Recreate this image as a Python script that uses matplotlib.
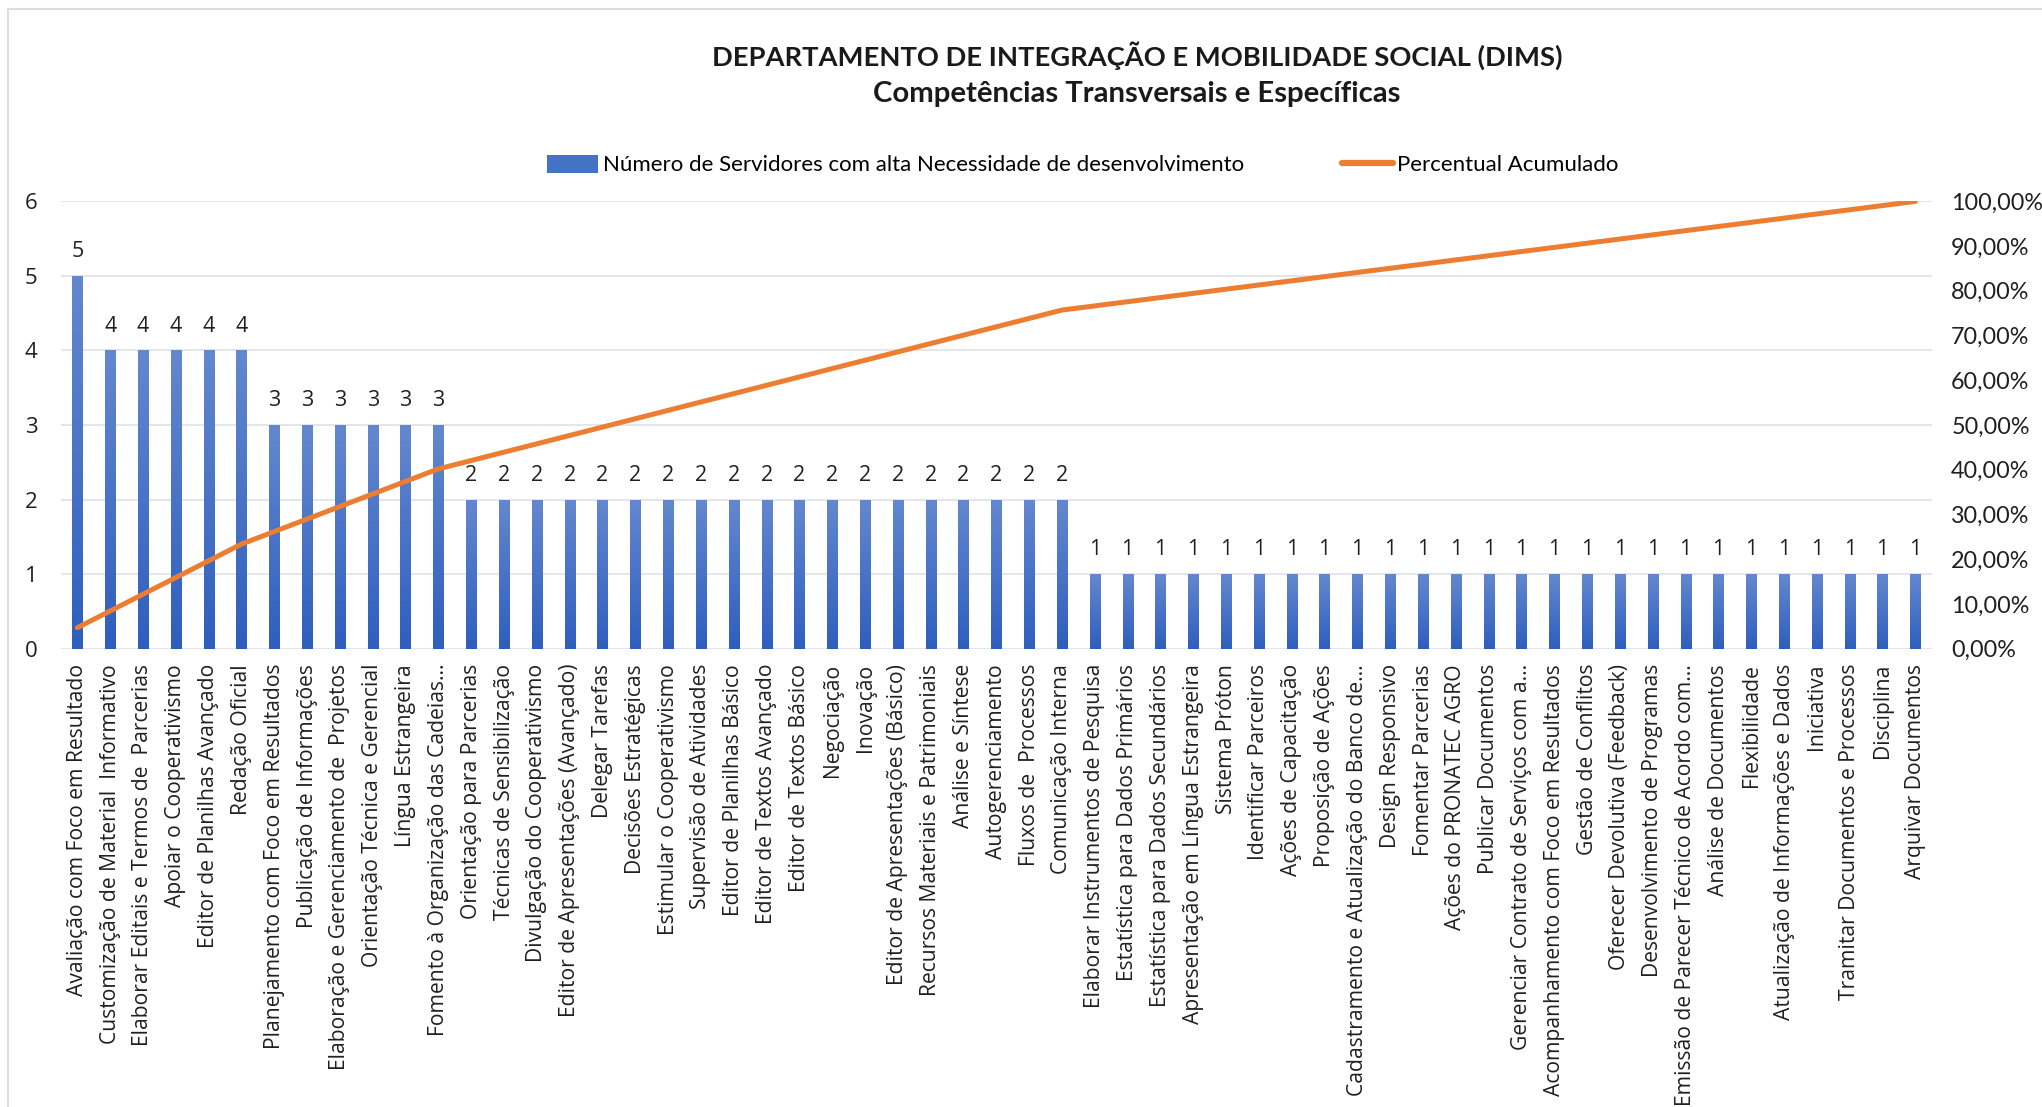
import numpy as np
import matplotlib
matplotlib.use("Agg")
import matplotlib.pyplot as plt
from matplotlib.patches import Rectangle
from matplotlib.lines import Line2D
from matplotlib.colors import LinearSegmentedColormap
from matplotlib.ticker import FuncFormatter

categories = [
    "Avaliação com Foco em Resultado",
    "Customização de Material  Informativo",
    "Elaborar Editais e Termos de  Parcerias",
    "Apoiar o Cooperativismo",
    "Editor de Planilhas Avançado",
    "Redação Oficial",
    "Planejamento com Foco em Resultados",
    "Publicação de Informações",
    "Elaboração e Gerenciamento de  Projetos",
    "Orientação Técnica e Gerencial",
    "Língua Estrangeira",
    "Fomento à Organização das Cadeias...",
    "Orientação para Parcerias",
    "Técnicas de Sensibilização",
    "Divulgação do Cooperativismo",
    "Editor de Apresentações (Avançado)",
    "Delegar Tarefas",
    "Decisões Estratégicas",
    "Estimular o Cooperativismo",
    "Supervisão de Atividades",
    "Editor de Planilhas Básico",
    "Editor de Textos Avançado",
    "Editor de Textos Básico",
    "Negociação",
    "Inovação",
    "Editor de Apresentações (Básico)",
    "Recursos Materiais e Patrimoniais",
    "Análise e Síntese",
    "Autogerenciamento",
    "Fluxos de  Processos",
    "Comunicação Interna",
    "Elaborar Instrumentos de Pesquisa",
    "Estatística para Dados Primários",
    "Estatística para Dados Secundários",
    "Apresentação em Língua Estrangeira",
    "Sistema Próton",
    "Identificar Parceiros",
    "Ações de Capacitação",
    "Proposição de Ações",
    "Cadastramento e Atualização do Banco de...",
    "Design Responsivo",
    "Fomentar Parcerias",
    "Ações do PRONATEC AGRO",
    "Publicar Documentos",
    "Gerenciar Contrato de Serviços com a...",
    "Acompanhamento com Foco em Resultados",
    "Gestão de Conflitos",
    "Oferecer Devolutiva (Feedback)",
    "Desenvolvimento de Programas",
    "Emissão de Parecer Técnico de Acordo com...",
    "Análise de Documentos",
    "Flexibilidade",
    "Atualização de Informações e Dados",
    "Iniciativa",
    "Tramitar Documentos e Processos",
    "Disciplina",
    "Arquivar Documentos",
]

counts = [5, 4, 4, 4, 4, 4, 3, 3, 3, 3, 3, 3,
          2, 2, 2, 2, 2, 2, 2, 2, 2, 2, 2, 2, 2, 2, 2, 2, 2, 2, 2,
          1, 1, 1, 1, 1, 1, 1, 1, 1, 1, 1, 1, 1, 1, 1, 1, 1, 1, 1, 1, 1, 1, 1, 1, 1, 1]

title_line1 = "DEPARTAMENTO DE INTEGRAÇÃO E MOBILIDADE SOCIAL (DIMS)"
title_line2 = "Competências Transversais e Específicas"
legend_bar = "Número de Servidores com alta Necessidade de desenvolvimento"
legend_line = "Percentual Acumulado"

counts_arr = np.array(counts, dtype=float)
cum_pct = np.cumsum(counts_arr) / counts_arr.sum() * 100.0

W, H = 2042, 1107
fig = plt.figure(figsize=(W / 100, H / 100), dpi=100)
fig.patch.set_facecolor("white")

# outer chart border (left and top)
fig.add_artist(Line2D([8 / W, 8 / W], [0, 1 - 9 / H], transform=fig.transFigure,
                      color="#D9DEE4", lw=1.5))
fig.add_artist(Line2D([8 / W, 1], [1 - 9 / H, 1 - 9 / H], transform=fig.transFigure,
                      color="#D9DEE4", lw=1.5))

left, right = 60.9 / W, 1931.8 / W
bottom, top = 1 - 648.6 / H, 1 - 201.4 / H
ax = fig.add_axes([left, bottom, right - left, top - bottom])
ax.set_xlim(-0.5, len(categories) - 0.5)
ax.set_ylim(0, 6)
ax.set_yticks(range(0, 7))
ax.yaxis.grid(True, color="#E1E5EA", lw=1.3)
ax.set_axisbelow(True)
for s in ax.spines.values():
    s.set_visible(False)
ax.tick_params(length=0)

x = np.arange(len(categories))
bar_w = 0.31
cmap = LinearSegmentedColormap.from_list("g", ["#2E5EBE", "#6488CF"])
grad = np.linspace(0, 1, 256).reshape(-1, 1)
bars = ax.bar(x, counts_arr, width=bar_w, color="none", edgecolor="none", zorder=2)
for b in bars:
    x0, y0 = b.get_x(), b.get_y()
    w, h = b.get_width(), b.get_height()
    im = ax.imshow(grad, cmap=cmap, origin="lower", aspect="auto",
                   extent=[x0, x0 + w, y0, y0 + h], zorder=2, interpolation="bilinear")
    im.set_clip_path(b)
ax.set_xlim(-0.5, len(categories) - 0.5)
ax.set_ylim(0, 6)

for xi, v in zip(x, counts):
    ax.annotate(str(v), (xi, v), xytext=(0, 10), textcoords="offset points",
                ha="center", va="bottom", fontsize=15.5, family="Open Sans", color="#202020")

ax.set_xticks(x)
ax.set_xticklabels(categories, rotation=90, fontsize=15.2, family="Open Sans", color="#202020")
ax.tick_params(axis="x", pad=11)
for lab in ax.get_yticklabels():
    lab.set_fontsize(16)
    lab.set_family("Open Sans")
    lab.set_color("#202020")
ax.tick_params(axis="y", pad=17)

ax2 = ax.twinx()
ax2.set_ylim(0, 100)
ax2.set_yticks(np.arange(0, 101, 10))
ax2.yaxis.set_major_formatter(FuncFormatter(lambda v, p: f"{v:.2f}".replace(".", ",") + "%"))
for s in ax2.spines.values():
    s.set_visible(False)
ax2.tick_params(length=0, pad=14)
for lab in ax2.get_yticklabels():
    lab.set_fontsize(16.8)
    lab.set_family("Lato")
    lab.set_color("#202020")
ax2.plot(x, cum_pct, color="#ED7D31", lw=3.6, solid_joinstyle="round",
         solid_capstyle="round", zorder=3)

# titles
fig.text(1137 / W, 1 - 56 / H, title_line1, ha="center", va="center",
         fontsize=19.7, fontweight="bold", family="Lato", color="#1a1a1a")
fig.text(1137 / W, 1 - 94 / H, title_line2, ha="center", va="center",
         fontsize=21.1, fontweight="bold", family="Lato", color="#1a1a1a")

# legend
handles = [Rectangle((0, 0), 1, 1, facecolor="#4472C4", edgecolor="none"),
           Line2D([0], [0], color="#ED7D31", lw=4.5, solid_capstyle="round")]
leg = fig.legend(handles, [legend_bar, legend_line], loc="center",
                 bbox_to_anchor=(1083 / W, 1 - 165 / H), ncol=2, frameon=False,
                 prop={"family": "Lato", "size": 16.0}, handlelength=2.3,
                 handletextpad=0.2, columnspacing=4.4, handleheight=0.9)

fig.savefig("out.png", dpi=100, facecolor="white")
